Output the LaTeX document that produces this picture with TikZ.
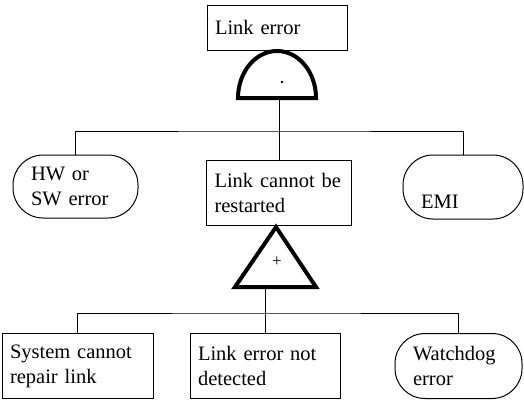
\documentclass[tikz,border=0pt]{standalone}
\usepackage{fontspec}
\setmainfont{Liberation Serif}

\tikzset{
  evento/.style={draw, line width=1pt, rectangle, align=left, inner xsep=8pt,
    font=\fontsize{20.5}{25}\selectfont},
  base/.style={evento, rounded corners=30pt, inner xsep=18pt},
  porta/.style={line width=4pt, line join=miter}
}

\begin{document}
\begin{tikzpicture}[x=1pt, y=-1pt]
    \useasboundingbox (0,0) rectangle (524,399);

    % --- Evento di testa ---
    \node[evento, text width=124pt, minimum height=45pt] (linkerr) at (277,27.5) {Link error};

    % Porta AND
    \draw[porta] (238,98) -- (316,98) arc[start angle=0, end angle=-180, x radius=39, y radius=47] -- cycle;
    \fill (282,82) circle (1.3pt);
    \coordinate (andbase) at (279,100);
    \coordinate (bus1) at (279,131);

    % --- Primo livello ---
    \node[base, text width=89pt, minimum height=63pt] (hwsw) at (75.5,186.5) {HW or\\SW error};
    \node[evento, text width=129pt, minimum height=65pt] (restart) at (279,192.5) {Link cannot be\\restarted};
    \node[base, text width=84pt, minimum height=64pt] (emi) at (463,187) {\mbox{}\\[18pt]EMI};

    \draw (andbase) -- (restart.north);
    \draw (hwsw.north) |- (bus1) -| (emi.north);

    % Porta OR
    \coordinate (orapex) at (276,227);
    \draw[porta] (orapex) -- (235,287) -- (316,287) -- cycle;
    \node[font=\fontsize{17}{17}\selectfont, inner sep=0pt] (piu) at (277,262) {+};
    \coordinate (orbase) at (265,289);
    \coordinate (bus2) at (265,313);

    % --- Secondo livello ---
    \node[evento, text width=135pt, minimum height=65pt] (sysrep) at (77.5,366) {System cannot\\repair link};
    \node[evento, text width=134pt, minimum height=65pt] (notdet) at (265,366) {Link error not\\detected};
    \node[base, text width=91pt, minimum height=65pt] (watch) at (458.5,366) {Watchdog\\error};

    \draw (orbase) -- (notdet.north);
    \draw (sysrep.north) |- (bus2) -| (watch.north);
\end{tikzpicture}
\end{document}
